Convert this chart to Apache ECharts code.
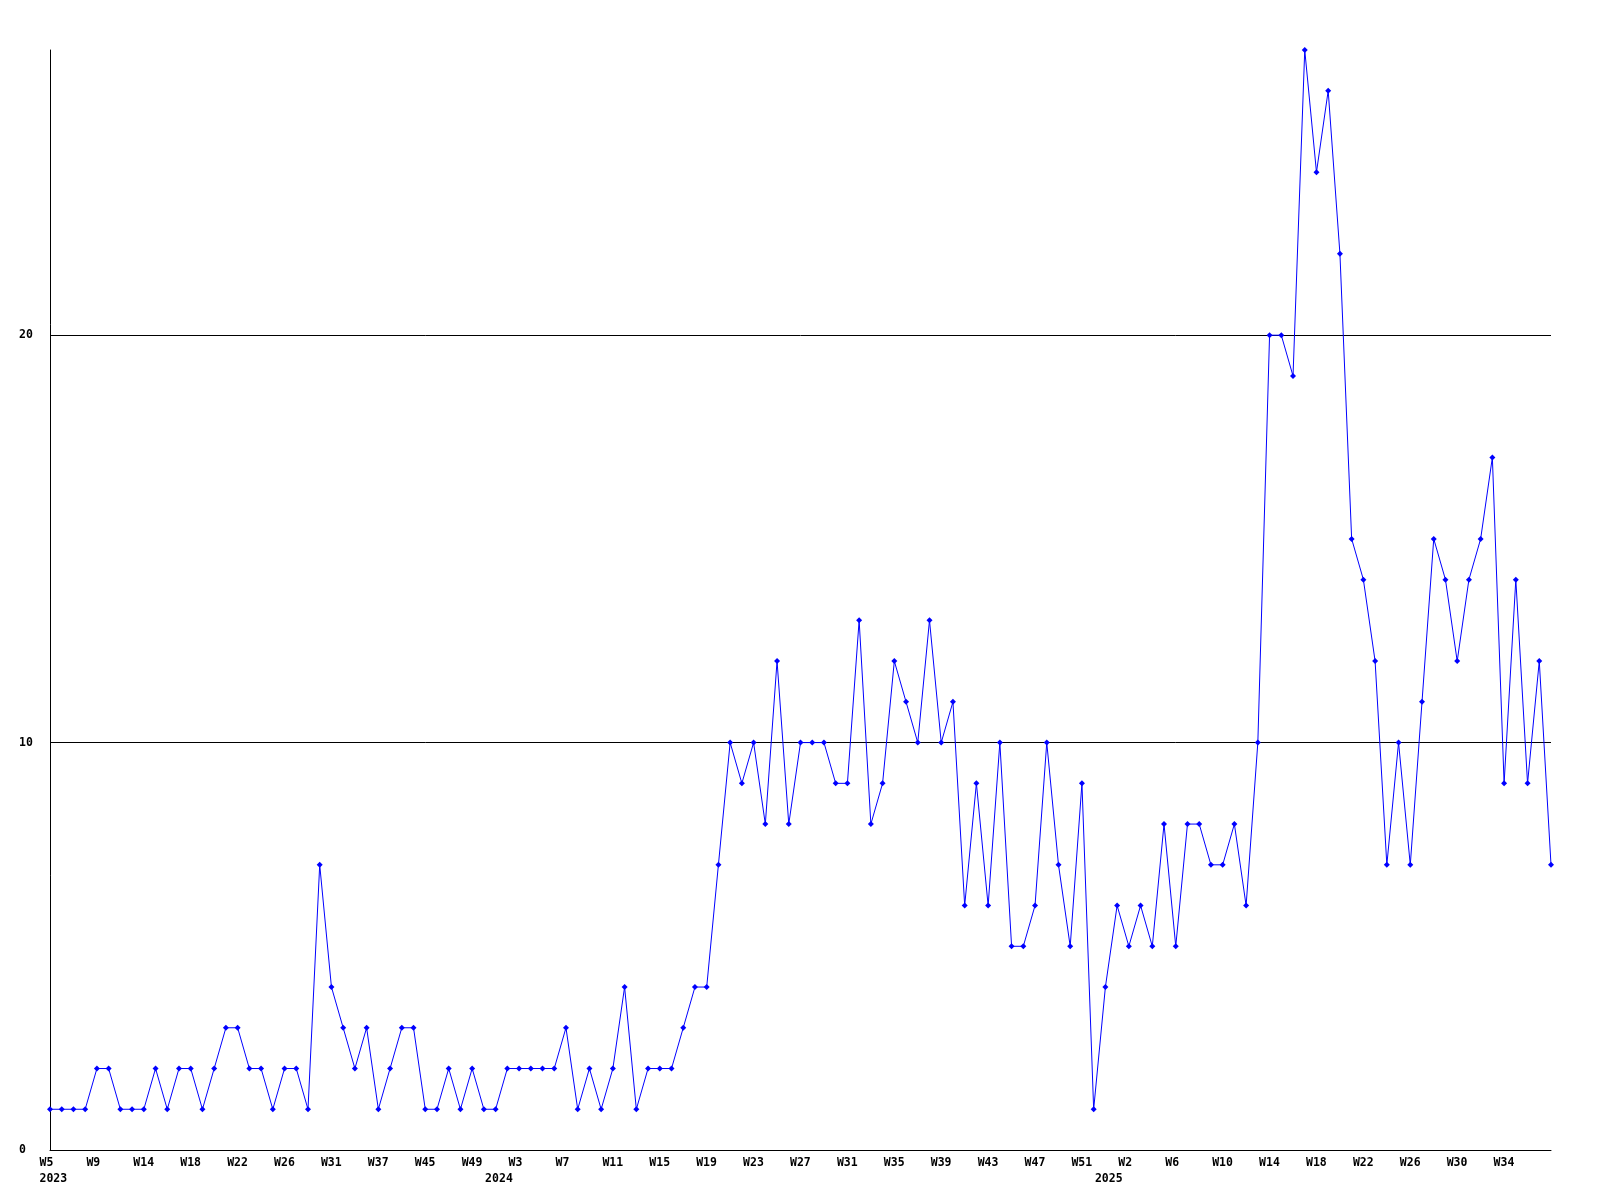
<!DOCTYPE html>
<html>
<head>
<meta charset="utf-8">
<script src="https://cdn.jsdelivr.net/npm/echarts@6/dist/echarts.min.js"></script>
<style>
  html, body { margin: 0; padding: 0; background: #fff; }
  #chart { width: 1600px; height: 1200px; }
</style>
</head>
<body>
<div id="chart"></div>
<script>
// weekly counts, W5 2023 .. 2025
var values = [
  1,1,1,1,2,2,1,1,1,2,1,2,2,1,2,3,3,2,2,1,2,2,1,7,4,3,2,3,1,2,3,3,1,1,
  2,1,2,1,1,2,2,2,2,2,3,1,2,1,2,4,1,2,2,2,3,4,4,7,
  10,9,10,8,12,8,10,10,10,9,9,13,8,9,12,11,10,13,10,11,6,9,6,10,5,5,6,10,7,5,9,1,
  4,6,5,6,5,8,5,8,8,7,7,8,6,10,
  20,20,19,27,24,26,22,15,14,12,7,10,7,11,15,14,12,14,15,17,9,14,9,12,7
];
// one label every 4 points
var weekLabels = ['W5','W9','W14','W18','W22','W26','W31','W37','W45','W49',
  'W3','W7','W11','W15','W19','W23','W27','W31','W35','W39','W43','W47','W51',
  'W2','W6','W10','W14','W18','W22','W26','W30','W34'];
var yearTicks = [0, 38, 90];
var yearLabels = ['2023', '2024', '2025'];
var yTicks = [0, 10, 20];

var categories = values.map(function (v, i) { return String(i); });
var font = 'DejaVu Sans Mono';

var myChart = echarts.init(document.getElementById('chart'));
var option = {
  animation: false,
  backgroundColor: '#fff',
  grid: { left: 50, right: 49, top: 50, bottom: 50 },
  xAxis: {
    type: 'category',
    boundaryGap: false,
    data: categories,
    axisLine: { lineStyle: { color: '#000', width: 1 } },
    axisTick: { show: false },
    splitLine: { show: false },
    axisLabel: {
      margin: 5,
      align: 'center',
      interval: function (i) {
        return (i % 4 === 0 && i / 4 < weekLabels.length) || yearTicks.indexOf(i) >= 0;
      },
      formatter: function (val) {
        var i = Number(val);
        var w = (i % 4 === 0 && i / 4 < weekLabels.length) ? weekLabels[i / 4] : ' ';
        var k = yearTicks.indexOf(i);
        var y = k >= 0 ? yearLabels[k] : ' ';
        return '{w|' + w + '}\n{w|' + y + '}';
      },
      rich: {
        w: {
          width: 21, align: 'left', lineHeight: 16,
          fontFamily: font, fontWeight: 'bold', fontSize: 11.5, color: '#000'
        }
      }
    }
  },
  yAxis: {
    type: 'value',
    min: 0,
    max: 27,
    interval: 10,
    axisLine: { show: true, lineStyle: { color: '#000', width: 1 } },
    axisTick: { show: false },
    splitLine: { show: true, showMaxLine: false, lineStyle: { color: '#000', width: 1 } },
    axisLabel: {
      showMaxLabel: false,
      margin: 31,
      align: 'left',
      fontFamily: font,
      fontWeight: 'bold',
      fontSize: 11.5,
      color: '#000',
      formatter: function (v) { return yTicks.indexOf(v) >= 0 ? String(v) : ''; }
    }
  },
  series: [{
    type: 'line',
    data: values,
    symbol: 'diamond',
    symbolSize: 6,
    showAllSymbol: true,
    lineStyle: { color: '#0000ff', width: 1 },
    itemStyle: { color: '#0000ff' }
  }]
};
myChart.setOption(option);
</script>
</body>
</html>
